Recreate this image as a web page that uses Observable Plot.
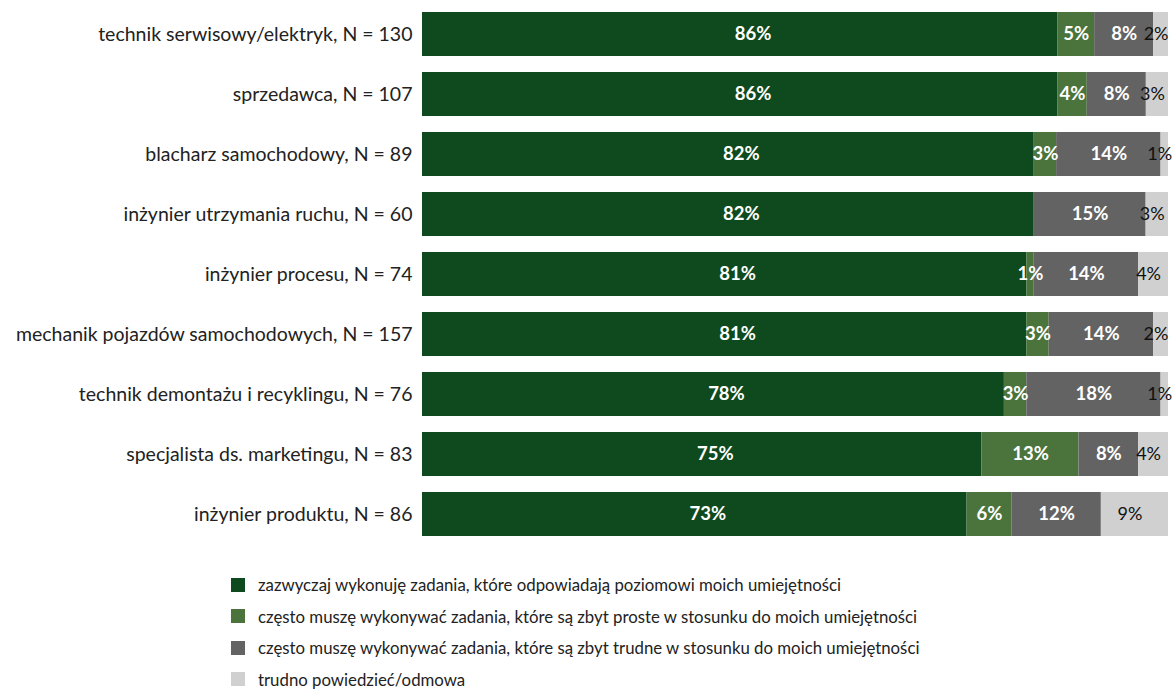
<!DOCTYPE html>
<html>
<head>
<meta charset="utf-8">
<script src="https://cdn.jsdelivr.net/npm/d3@7"></script>
<script src="https://cdn.jsdelivr.net/npm/@observablehq/plot@0.6"></script>
<style>
  html, body { margin: 0; padding: 0; background: #fff; }
  body { width: 1173px; height: 689px; overflow: hidden; font-family: Lato, "Open Sans", sans-serif; position: relative; }
  #chart svg { display: block; }
  .legend { position: absolute; left: 231px; top: 569px; font-size: 16.8px; color: #222; }
  .legend .item { display: flex; align-items: center; height: 31.5px; }
  .legend .sw { width: 14px; height: 14px; margin-right: 13px; flex: none; }
</style>
</head>
<body>
<div id="chart"></div>
<div class="legend" id="legend"></div>
<script>
const categories = [
  "technik serwisowy/elektryk, N = 130",
  "sprzedawca, N = 107",
  "blacharz samochodowy, N = 89",
  "inżynier utrzymania ruchu, N = 60",
  "inżynier procesu, N = 74",
  "mechanik pojazdów samochodowych, N = 157",
  "technik demontażu i recyklingu, N = 76",
  "specjalista ds. marketingu, N = 83",
  "inżynier produktu, N = 86"
];
const seriesNames = [
  "zazwyczaj wykonuję zadania, które odpowiadają poziomowi moich umiejętności",
  "często muszę wykonywać zadania, które są zbyt proste w stosunku do moich umiejętności",
  "często muszę wykonywać zadania, które są zbyt trudne w stosunku do moich umiejętności",
  "trudno powiedzieć/odmowa"
];
const seriesColors = ["#0f4a1e", "#4a743c", "#636363", "#d0d0d0"];
const usual   = [86, 86, 82, 82, 81, 81, 78, 75, 73];
const simple  = [5, 4, 3, 0, 1, 3, 3, 13, 6];
const hard    = [8, 8, 14, 15, 14, 14, 18, 8, 12];
const unknown = [2, 3, 1, 3, 4, 2, 1, 4, 9];

const seriesValues = [usual, simple, hard, unknown];
const data = [];
categories.forEach((c, i) => {
  seriesValues.forEach((vals, s) => {
    data.push({cat: c, series: seriesNames[s], s, value: vals[i]});
  });
});

const stackOpts = {x: "value", y: "cat", z: "series", offset: "normalize", order: seriesNames};
const label = (set) => d => (d.value > 0 && set.includes(d.s)) ? d.value + "%" : null;

const chart = Plot.plot({
  width: 1173,
  height: 548,
  marginLeft: 422,
  marginRight: 5,
  marginTop: 0,
  marginBottom: 0,
  style: {fontFamily: "Lato, 'Open Sans', sans-serif", fontSize: "19.5px", color: "#222"},
  x: {axis: null, domain: [0, 1]},
  y: {domain: categories, paddingInner: 0.275, paddingOuter: 0.2, label: null},
  color: {domain: seriesNames, range: seriesColors},
  marks: [
    Plot.barX(data, Plot.stackX({...stackOpts, fill: "series"})),
    Plot.text(data, Plot.stackX({
      ...stackOpts, text: label([0]),
      fill: "white", fontWeight: "bold", fontSize: 18.5, dx: 13
    })),
    Plot.text(data, Plot.stackX({
      ...stackOpts, text: label([1, 2]),
      fill: "white", fontWeight: "bold", fontSize: 18.5
    })),
    Plot.text(data, Plot.stackX({
      ...stackOpts, text: label([3]),
      fill: "#111", fontSize: 18, dx: -5
    })),
    Plot.axisY({tickSize: 0, tickPadding: 10, fontSize: 19.5, label: null, fill: "#222"})
  ]
});
document.getElementById("chart").appendChild(chart);

const legend = document.getElementById("legend");
seriesNames.forEach((n, i) => {
  const it = document.createElement("div");
  it.className = "item";
  const sw = document.createElement("span");
  sw.className = "sw";
  sw.style.background = seriesColors[i];
  const tx = document.createElement("span");
  tx.textContent = n;
  it.appendChild(sw);
  it.appendChild(tx);
  legend.appendChild(it);
});
</script>
</body>
</html>
